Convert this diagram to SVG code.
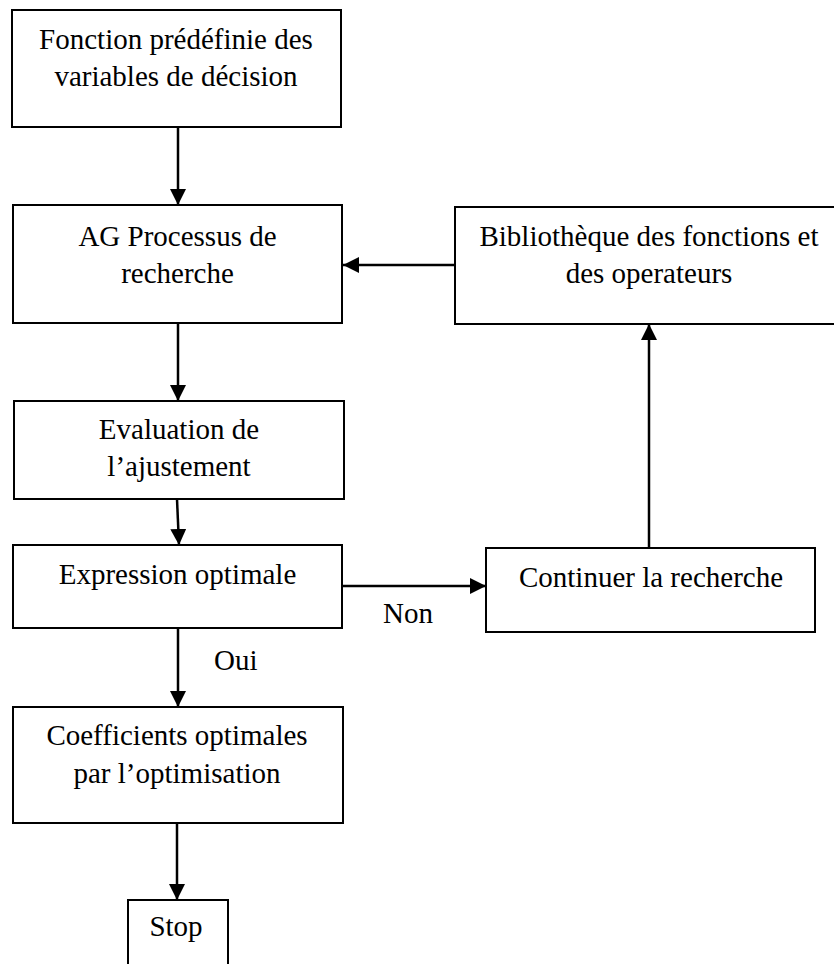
<svg xmlns="http://www.w3.org/2000/svg" width="834" height="964" viewBox="0 0 834 964">
<style>
.box{fill:#fff;stroke:#000;stroke-width:2}
.t{font-family:"Liberation Serif","Times New Roman",serif;font-size:29px;fill:#000;text-anchor:middle}
.l{font-family:"Liberation Serif","Times New Roman",serif;font-size:29px;fill:#000}
.c{stroke:#000;stroke-width:2.5;fill:none;marker-end:url(#ah)}
</style>
<defs>
<marker id="ah" markerUnits="userSpaceOnUse" markerWidth="16" markerHeight="16" viewBox="0 0 15 15" refX="15" refY="7.5" orient="auto">
<path d="M0,0 L15,7.5 L0,15 z" fill="#000"/>
</marker>
</defs>
<rect width="834" height="964" fill="#fff"/>
<g id="connectors">
<line class="c" x1="178" y1="127" x2="178" y2="205"/>
<line class="c" x1="455" y1="265" x2="343" y2="265"/>
<line class="c" x1="178" y1="323" x2="178" y2="401"/>
<line class="c" x1="177" y1="499" x2="179" y2="545"/>
<line class="c" x1="342" y1="586" x2="486" y2="586"/>
<line class="c" x1="649" y1="548" x2="649" y2="324"/>
<line class="c" x1="178" y1="628" x2="178" y2="707"/>
<line class="c" x1="177" y1="823" x2="177" y2="900"/>
<text class="l" x="383" y="623">Non</text>
<text class="l" x="214" y="670">Oui</text>
</g>
<g id="n1">
<rect class="box" x="12" y="10" width="329" height="117"/>
<text class="t" x="176" y="49">Fonction prédéfinie des</text>
<text class="t" x="176" y="86">variables de décision</text>
</g>
<g id="n2">
<rect class="box" x="13" y="205" width="329" height="118"/>
<text class="t" x="177.5" y="246">AG Processus de</text>
<text class="t" x="177.5" y="283">recherche</text>
</g>
<g id="n3">
<rect class="box" x="455" y="207" width="390" height="117"/>
<text class="t" x="649" y="246">Bibliothèque des fonctions et</text>
<text class="t" x="649" y="283">des operateurs</text>
</g>
<g id="n4">
<rect class="box" x="14" y="401" width="330" height="98"/>
<text class="t" x="179" y="439">Evaluation de</text>
<text class="t" x="179" y="476">l’ajustement</text>
</g>
<g id="n5">
<rect class="box" x="13" y="545" width="329" height="83"/>
<text class="t" x="177.5" y="584">Expression optimale</text>
</g>
<g id="n6">
<rect class="box" x="486" y="548" width="329" height="84"/>
<text class="t" x="651" y="587">Continuer la recherche</text>
</g>
<g id="n7">
<rect class="box" x="13" y="707" width="330" height="116"/>
<text class="t" x="177" y="745">Coefficients optimales</text>
<text class="t" x="177" y="783">par l’optimisation</text>
</g>
<g id="n8">
<rect class="box" x="128" y="900" width="100" height="80"/>
<text class="t" x="176" y="936">Stop</text>
</g>
</svg>
